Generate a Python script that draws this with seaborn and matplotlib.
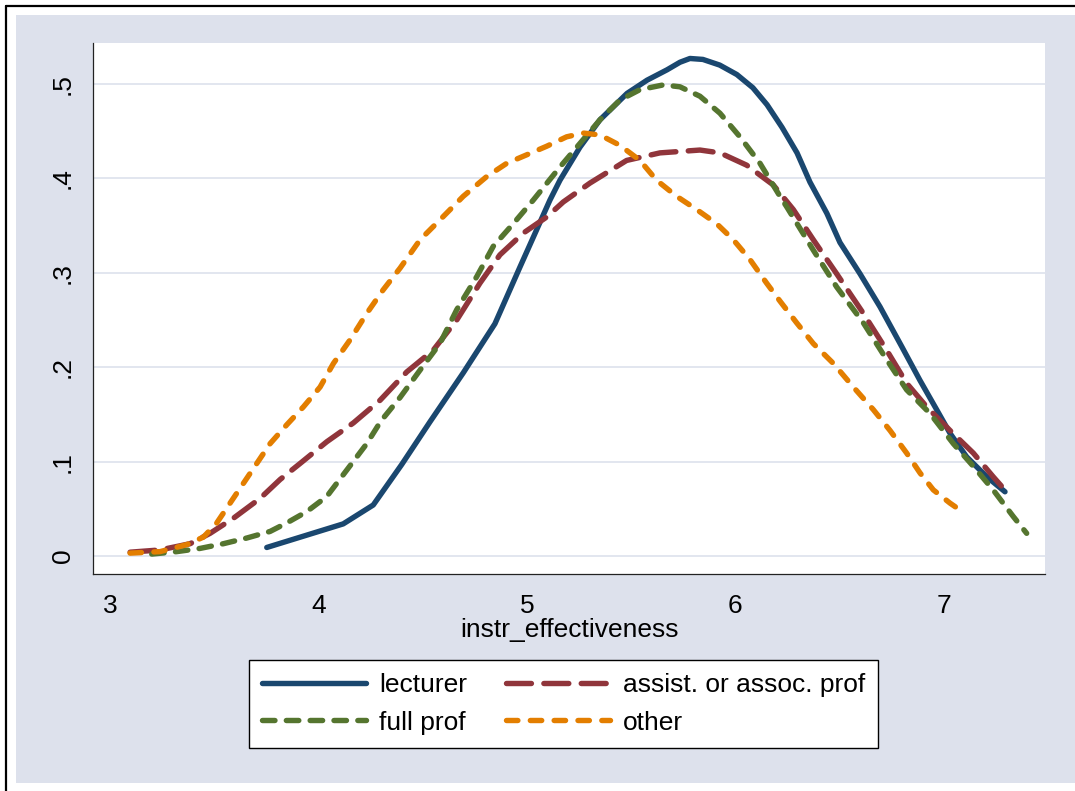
import numpy as np
import pandas as pd
import matplotlib
matplotlib.use("Agg")
import matplotlib.pyplot as plt
import seaborn as sns
from matplotlib.patches import Rectangle
from matplotlib.lines import Line2D

# ---------------- data ----------------
categories = ["lecturer", "assist. or assoc. prof", "full prof", "other"]

lecturer_x = [3.752, 4.119, 4.263, 4.400, 4.535, 4.695, 4.847, 4.967, 5.111, 5.159,
              5.255, 5.351, 5.481, 5.577, 5.673, 5.735, 5.783, 5.845, 5.926, 6.008,
              6.085, 6.153, 6.225, 6.297, 6.359, 6.440, 6.503, 6.599, 6.695, 6.799,
              6.887, 6.967, 7.031, 7.111, 7.207, 7.295]
lecturer_y = [0.009, 0.034, 0.054, 0.097, 0.142, 0.194, 0.246, 0.306, 0.377, 0.398,
              0.433, 0.462, 0.490, 0.504, 0.515, 0.523, 0.527, 0.526, 0.520, 0.510,
              0.496, 0.478, 0.454, 0.427, 0.396, 0.363, 0.332, 0.299, 0.264, 0.222,
              0.186, 0.155, 0.130, 0.105, 0.084, 0.068]

assist_x = [3.096, 3.240, 3.384, 3.480, 3.592, 3.720, 3.816, 3.912, 4.040, 4.168,
            4.296, 4.424, 4.551, 4.664, 4.775, 4.871, 4.983, 5.095, 5.175, 5.303,
            5.479, 5.639, 5.831, 5.927, 6.055, 6.183, 6.279, 6.375, 6.487, 6.615,
            6.727, 6.823, 6.919, 7.031, 7.143, 7.238, 7.302]
assist_y = [0.004, 0.0064, 0.013, 0.024, 0.040, 0.061, 0.081, 0.098, 0.121, 0.141,
            0.165, 0.195, 0.218, 0.250, 0.289, 0.319, 0.342, 0.359, 0.375, 0.395,
            0.419, 0.427, 0.430, 0.427, 0.414, 0.393, 0.367, 0.335, 0.299, 0.257,
            0.218, 0.183, 0.158, 0.133, 0.109, 0.084, 0.068]

fullprof_x = [3.200, 3.320, 3.432, 3.544, 3.656, 3.768, 3.848, 3.944, 4.040, 4.136,
              4.232, 4.300, 4.392, 4.488, 4.583, 4.664, 4.760, 4.839, 4.935, 5.031,
              5.159, 5.255, 5.351, 5.447, 5.543, 5.655, 5.735, 5.831, 5.927, 6.023,
              6.119, 6.215, 6.247, 6.375, 6.487, 6.615, 6.727, 6.823, 6.935, 7.047,
              7.143, 7.238, 7.334, 7.399]
fullprof_y = [0.002, 0.0046, 0.008, 0.013, 0.019, 0.026, 0.035, 0.047, 0.063, 0.091,
              0.119, 0.143, 0.168, 0.197, 0.225, 0.261, 0.296, 0.328, 0.352, 0.377,
              0.412, 0.437, 0.462, 0.483, 0.494, 0.499, 0.497, 0.487, 0.469, 0.444,
              0.416, 0.381, 0.370, 0.324, 0.285, 0.247, 0.208, 0.176, 0.151, 0.119,
              0.095, 0.070, 0.042, 0.024]

other_x = [3.096, 3.240, 3.368, 3.448, 3.512, 3.576, 3.640, 3.704, 3.768, 3.848,
           3.928, 4.008, 4.072, 4.152, 4.232, 4.311, 4.392, 4.488, 4.583, 4.695,
           4.808, 4.904, 5.000, 5.095, 5.191, 5.271, 5.351, 5.447, 5.543, 5.623,
           5.719, 5.815, 5.911, 5.991, 6.071, 6.151, 6.215, 6.295, 6.375, 6.471,
           6.567, 6.663, 6.743, 6.823, 6.887, 6.951, 7.031, 7.103]
other_y = [0.003, 0.0046, 0.012, 0.020, 0.035, 0.056, 0.077, 0.098, 0.119, 0.139,
           0.158, 0.179, 0.204, 0.229, 0.257, 0.282, 0.305, 0.335, 0.356, 0.381,
           0.402, 0.416, 0.425, 0.434, 0.444, 0.448, 0.446, 0.435, 0.419, 0.398,
           0.381, 0.367, 0.352, 0.335, 0.314, 0.289, 0.270, 0.247, 0.225, 0.204,
           0.179, 0.155, 0.133, 0.109, 0.088, 0.070, 0.056, 0.045]

x_ticks = [3, 4, 5, 6, 7]
x_tick_labels = ["3", "4", "5", "6", "7"]
y_ticks = [0, 0.1, 0.2, 0.3, 0.4, 0.5]
y_tick_labels = ["0", ".1", ".2", ".3", ".4", ".5"]
x_title = "instr_effectiveness"

# ---------------- styling ----------------
colors = {"lecturer": "#1a476f", "assist. or assoc. prof": "#90353b",
          "full prof": "#55752f", "other": "#e37e00"}
dashes = {"lecturer": "", "assist. or assoc. prof": (4.6, 2.3),
          "full prof": (2.3, 2.1), "other": (2.1, 2.3)}
LW = 3.9

sns.set_style("white")
plt.rcParams['font.family'] = ['Liberation Sans', 'DejaVu Sans']
plt.rcParams['text.color'] = 'black'
plt.rcParams['axes.labelcolor'] = 'black'
plt.rcParams['xtick.color'] = 'black'
plt.rcParams['ytick.color'] = 'black'

W, H = 1075, 791
BG = '#dde1ec'
fig = plt.figure(figsize=(W / 100, H / 100), dpi=100, facecolor='white')

# graph region (Stata-like)
fig.patches.append(Rectangle((16 / W, 8 / H), 1 - 16 / W, 768 / H,
                             transform=fig.transFigure, facecolor=BG,
                             edgecolor='none', zorder=-10))
fig.lines.append(Line2D([6 / W, 6 / W], [0, 1 - 6 / H], transform=fig.transFigure,
                        color='black', lw=1.6, zorder=-9))
fig.lines.append(Line2D([6 / W, 1], [1 - 6 / H, 1 - 6 / H], transform=fig.transFigure,
                        color='black', lw=1.6, zorder=-9))

ax = fig.add_axes([93 / W, (H - 574) / H, (1045 - 93) / W, (574 - 43) / H])
ax.set_zorder(1)
ax.set_facecolor('white')

frames = []
for name, xs, ys in [("lecturer", lecturer_x, lecturer_y),
                     ("assist. or assoc. prof", assist_x, assist_y),
                     ("full prof", fullprof_x, fullprof_y),
                     ("other", other_x, other_y)]:
    frames.append(pd.DataFrame({"x": xs, "y": ys, "group": name}))
df = pd.concat(frames, ignore_index=True)

sns.lineplot(data=df, x="x", y="y", hue="group", style="group",
             hue_order=categories, style_order=categories,
             palette=colors, dashes=dashes, sort=False, estimator=None,
             lw=LW, legend=False, ax=ax)
for ln in ax.lines:
    ln.set_dash_capstyle('round')
    ln.set_solid_capstyle('round')
    ln.set_solid_joinstyle('round')
    ln.set_dash_joinstyle('round')

ax.set_xlim(2.918, 7.487)
ax.set_ylim(-0.0191, 0.5434)
ax.set_xticks(x_ticks)
ax.set_xticklabels(x_tick_labels, fontsize=19)
ax.set_yticks(y_ticks)
ax.set_yticklabels(y_tick_labels, fontsize=19, rotation=90, va='center')
ax.tick_params(axis='x', length=8, width=0.9, color='#333333', pad=6.5, direction='out')
ax.tick_params(axis='y', length=8, width=0.9, color='#333333', pad=5, direction='out')
ax.grid(False)
ax.yaxis.grid(True, color=BG, lw=1.2)
ax.set_axisbelow(True)
for s in ['top', 'right']:
    ax.spines[s].set_visible(False)
for s in ['left', 'bottom']:
    ax.spines[s].set_color('#222222')
    ax.spines[s].set_linewidth(0.9)

ax.set_xlabel(x_title, fontsize=19)
ax.xaxis.set_label_coords(0.5, -0.083)
ax.set_ylabel("")

# legend
order = ["lecturer", "full prof", "assist. or assoc. prof", "other"]
handles = []
for name in order:
    d = dashes[name]
    if d == "":
        h = Line2D([], [], color=colors[name], lw=LW, solid_capstyle='round')
    else:
        h = Line2D([], [], color=colors[name], lw=LW, dashes=d,
                   dash_capstyle='round')
    handles.append(h)
leg = fig.legend(handles, order, ncol=2, loc='upper left',
                 bbox_to_anchor=(249 / W, 1 - 660 / H), borderaxespad=0,
                 frameon=True, fancybox=False, edgecolor='black', facecolor='white',
                 framealpha=1, fontsize=19, handlelength=3.94, handletextpad=0.49,
                 columnspacing=1.48, borderpad=0.49, labelspacing=0.52)
leg.get_frame().set_linewidth(1.0)
leg.set_zorder(5)

fig.savefig("out.png", dpi=100, facecolor='white')
